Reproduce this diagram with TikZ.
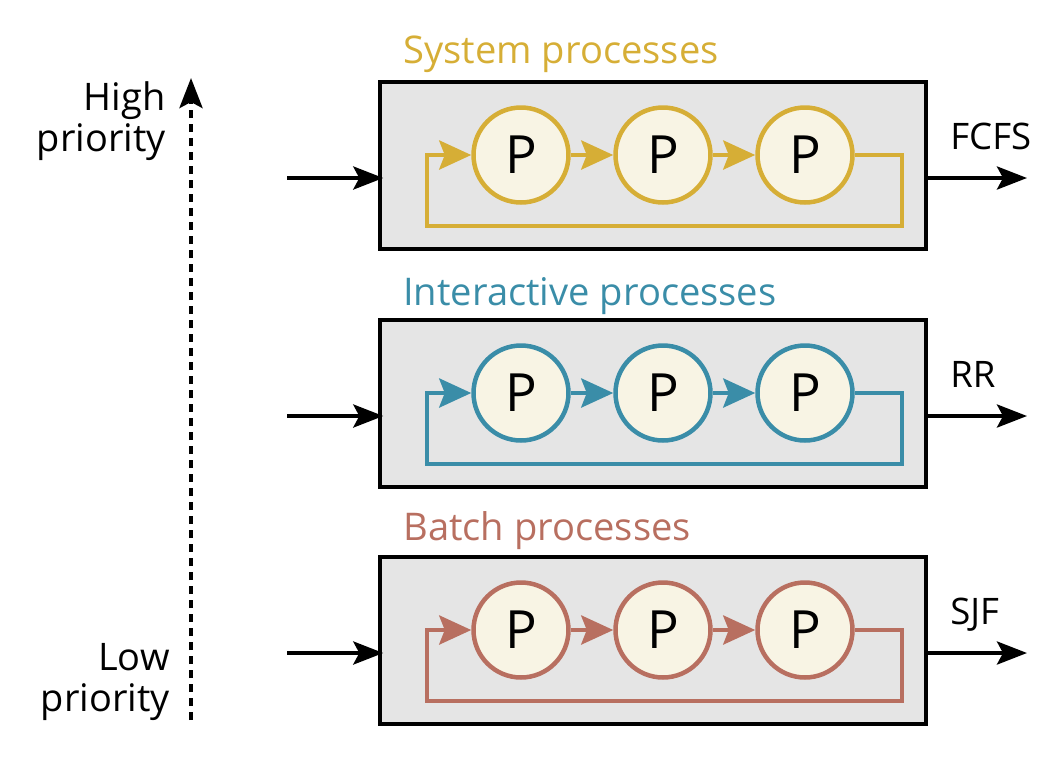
\documentclass[tikz,border=0pt]{standalone}
\usepackage{fontspec}
\setmainfont{Open Sans}
\usetikzlibrary{arrows.meta,positioning}
\definecolor{sysgold}{HTML}{D6AE36}
\definecolor{intblue}{HTML}{3A8DA8}
\definecolor{batrust}{HTML}{B86F60}
\definecolor{cream}{HTML}{F8F4E4}
\definecolor{boxgray}{HTML}{E5E5E5}

\begin{document}
\begin{tikzpicture}[x=0.02cm,y=-0.02cm,
  queue/.style={rectangle,draw=black,fill=boxgray,line width=0.07cm,
                minimum width=10.92cm,minimum height=3.34cm,inner sep=0pt},
  proc/.style={circle,draw=#1,fill=cream,line width=0.09cm,
               minimum size=1.9cm,inner sep=0pt,font=\fontsize{30}{30}\selectfont},
  link/.style={draw=#1,line width=0.09cm,
               -{Stealth[length=0.64cm,width=0.58cm,inset=0.11cm]}},
  flow/.style={line width=0.08cm,
               -{Stealth[length=0.6cm,width=0.46cm,inset=0.12cm]}},
  title/.style={anchor=base west,inner sep=0pt,font=\fontsize{21.7}{26}\selectfont},
  algo/.style={anchor=base west,inner sep=0pt,font=\fontsize{20.8}{24}\selectfont},
  lbl/.style={anchor=east,align=right,inner sep=0pt,font=\fontsize{21.6}{23.5}\selectfont}]

\useasboundingbox (0,0) rectangle (1048,762);

% priority axis
\coordinate (lowend)  at (191,720);
\coordinate (highend) at (191,78);
\draw[flow,line width=0.085cm,dash pattern=on 0.16cm off 0.12cm] (lowend) -- (highend);
\node[lbl] (high) at (166,121) {High\\priority};
\node[lbl] (low)  at (170,682) {Low\\priority};

% system processes
\node[title,text=sysgold] (systitle) at (403,63) {System processes};
\node[queue] (sysbox) at (653,165.5) {};
\node[proc=sysgold] (s1) at (521,155) {P};
\node[proc=sysgold] (s2) at (663,155) {P};
\node[proc=sysgold] (s3) at (805,155) {P};
\coordinate (s-ne) at (902,155);
\coordinate (s-se) at (902,226);
\coordinate (s-sw) at (427,226);
\coordinate (s-nw) at (427,155);
\draw[link=sysgold] (s1) -- (s2);
\draw[link=sysgold] (s2) -- (s3);
\draw[link=sysgold] (s3) -- (s-ne) -- (s-se) -- (s-sw) -- (s-nw) -- (s1);
\coordinate (s-in)  at (287,178);
\coordinate (s-out) at (1027,178);
\draw[flow,shorten >=-0.1cm] (s-in) -- (sysbox.west |- s-in);
\draw[flow] (sysbox.east |- s-out) -- (s-out);
\node[algo] (fcfs) at (950,149) {FCFS};

% interactive processes
\node[title,text=intblue] (inttitle) at (403,305) {Interactive processes};
\node[queue] (intbox) at (653,403.5) {};
\node[proc=intblue] (i1) at (521,393) {P};
\node[proc=intblue] (i2) at (663,393) {P};
\node[proc=intblue] (i3) at (805,393) {P};
\coordinate (i-ne) at (902,393);
\coordinate (i-se) at (902,464);
\coordinate (i-sw) at (427,464);
\coordinate (i-nw) at (427,393);
\draw[link=intblue] (i1) -- (i2);
\draw[link=intblue] (i2) -- (i3);
\draw[link=intblue] (i3) -- (i-ne) -- (i-se) -- (i-sw) -- (i-nw) -- (i1);
\coordinate (i-in)  at (287,416);
\coordinate (i-out) at (1027,416);
\draw[flow,shorten >=-0.1cm] (i-in) -- (intbox.west |- i-in);
\draw[flow] (intbox.east |- i-out) -- (i-out);
\node[algo] (rr) at (950,387) {RR};

% batch processes
\node[title,text=batrust] (battitle) at (403,540) {Batch processes};
\node[queue] (batbox) at (653,640.5) {};
\node[proc=batrust] (b1) at (521,630) {P};
\node[proc=batrust] (b2) at (663,630) {P};
\node[proc=batrust] (b3) at (805,630) {P};
\coordinate (b-ne) at (902,630);
\coordinate (b-se) at (902,701);
\coordinate (b-sw) at (427,701);
\coordinate (b-nw) at (427,630);
\draw[link=batrust] (b1) -- (b2);
\draw[link=batrust] (b2) -- (b3);
\draw[link=batrust] (b3) -- (b-ne) -- (b-se) -- (b-sw) -- (b-nw) -- (b1);
\coordinate (b-in)  at (287,653);
\coordinate (b-out) at (1027,653);
\draw[flow,shorten >=-0.1cm] (b-in) -- (batbox.west |- b-in);
\draw[flow] (batbox.east |- b-out) -- (b-out);
\node[algo] (sjf) at (950,624) {SJF};
\end{tikzpicture}
\end{document}
